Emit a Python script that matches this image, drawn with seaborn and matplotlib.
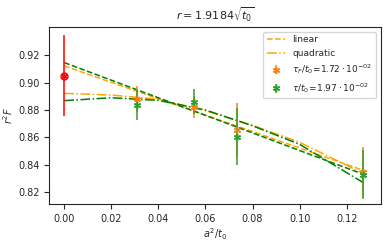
import numpy as np
import pandas as pd
import matplotlib
matplotlib.use("Agg")
import matplotlib.pyplot as plt
import seaborn as sns

# datos
a2_t0 = [0.0310, 0.0553, 0.0735, 0.1268]
r2F_tauF = [0.8880, 0.8825, 0.8655, 0.8350]
err_tauF = [0.0095, 0.0080, 0.0195, 0.0180]
r2F_tau = [0.8835, 0.8860, 0.8607, 0.8330]
err_tau = [0.0110, 0.0090, 0.0205, 0.0180]

# extrapolacion al continuo
x_cont = [0.0]
y_cont = [0.9048]
err_cont = [0.0295]

# ajustes
x_fit = [0.0, 0.02, 0.04, 0.06, 0.08, 0.10, 0.128]
lin_tauF = [0.9121, 0.9001, 0.8882, 0.8762, 0.8643, 0.8523, 0.8355]
lin_tau = [0.9145, 0.9017, 0.8889, 0.8761, 0.8633, 0.8505, 0.8326]
quad_tauF = [0.8921, 0.8909, 0.8878, 0.8795, 0.8688, 0.8565, 0.8330]
quad_tau = [0.8868, 0.8889, 0.8870, 0.8800, 0.8685, 0.8550, 0.8261]

sns.set_style("ticks")
fig = plt.figure(figsize=(3.9, 2.48), dpi=100)
ax = fig.add_axes([0.126, 0.177, 0.85, 0.713])

fits = pd.DataFrame({"x": x_fit, "lin_F": lin_tauF, "lin": lin_tau,
                     "quad_F": quad_tauF, "quad": quad_tau})

sns.lineplot(data=fits, x="x", y="lin_F", ax=ax, color="orange", ls="--", lw=1.1, label="linear")
sns.lineplot(data=fits, x="x", y="quad_F", ax=ax, color="orange", ls="-.", lw=1.1, label="quadratic")
sns.lineplot(data=fits, x="x", y="lin", ax=ax, color="green", ls="--", lw=1.1)
sns.lineplot(data=fits, x="x", y="quad", ax=ax, color="green", ls="-.", lw=1.1)

ax.errorbar(a2_t0, r2F_tauF, yerr=err_tauF, fmt=" ", marker=(6, 2, 0), ms=5, mew=1,
            color="tab:orange", elinewidth=1.1, label=r"$\tau_F/t_0\!=\!1.72\cdot10^{-02}$")
ax.errorbar(a2_t0, r2F_tau, yerr=err_tau, fmt=" ", marker=(6, 2, 0), ms=5, mew=1,
            color="tab:green", elinewidth=1.1, label=r"$\tau/t_0\!=\!1.97\cdot10^{-02}$")
ax.errorbar(x_cont, y_cont, yerr=err_cont, fmt=" ", marker="o", mfc="none", ms=5, mew=1,
            color="red", elinewidth=1.1)
ax.plot(x_cont, y_cont, ls="", marker=(6, 2, 0), ms=5, mew=1, color="red")

ax.set_xlim(-0.0064, 0.1344)
ax.set_ylim(0.8115, 0.9402)
ax.set_xticks([0.0, 0.02, 0.04, 0.06, 0.08, 0.10, 0.12])
ax.set_yticks([0.82, 0.84, 0.86, 0.88, 0.90, 0.92])
ax.xaxis.set_major_formatter(matplotlib.ticker.FormatStrFormatter("%.2f"))
ax.tick_params(labelsize=7)
ax.set_xlabel(r"$a^2/t_0$", fontsize=7, labelpad=2)
ax.set_ylabel(r"$r^2F$", fontsize=7, labelpad=2)
ax.set_title(r"$r=1.9184\sqrt{t_0}$", fontsize=8, pad=5)
ax.legend(loc="upper right", fontsize=6.5, frameon=True)

fig.savefig("out.png", dpi=100)
